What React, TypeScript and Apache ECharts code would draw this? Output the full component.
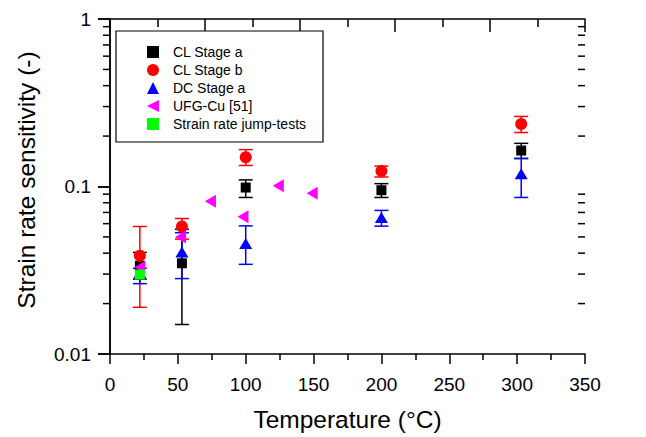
import React, { useEffect, useRef } from "react";
import * as echarts from "echarts";

// ---- data ----
const temps = [22, 53, 100, 200, 303];

const clStageA = [0.0336, 0.0348, 0.0986, 0.095, 0.164];
const clStageALow = [0.028, 0.015, 0.086, 0.086, 0.147];
const clStageAHigh = [0.0404, 0.0556, 0.1095, 0.104, 0.181];

const clStageB = [0.0386, 0.0577, 0.1496, 0.1237, 0.236];
const clStageBLow = [0.019, 0.0485, 0.1335, 0.114, 0.21];
const clStageBHigh = [0.0577, 0.0644, 0.166, 0.1324, 0.262];

const dcStageA = [0.0306, 0.0407, 0.0456, 0.0653, 0.119];
const dcStageALow = [0.0263, 0.0282, 0.0343, 0.058, 0.086];
const dcStageAHigh = [0.0325, 0.053, 0.0582, 0.072, 0.147];

const ufgTemps = [22, 52, 74, 98, 124, 149];
const ufgValues = [0.033, 0.05, 0.0816, 0.0659, 0.101, 0.091];

const jumpTemps = [22];
const jumpValues = [0.0298];

const yMajorTicks = [0.01, 0.1, 1];
const yMinorTicks = [
  0.02, 0.03, 0.04, 0.05, 0.06, 0.07, 0.08, 0.09,
  0.2, 0.3, 0.4, 0.5, 0.6, 0.7, 0.8, 0.9,
];

const legendNames = ["CL Stage a", "CL Stage b", "DC Stage a", "UFG-Cu [51]", "Strain rate jump-tests"];

const FONT = "'Liberation Sans', Arial, Helvetica, sans-serif";
const LEFT_TRIANGLE = "path://M10,0L10,10L0,5Z";

function errorSeries(name: string, color: string, low: number[], high: number[]) {
  return {
    type: "custom",
    name: name + " err",
    silent: true,
    data: temps.map((t, i) => [t, low[i], high[i]]),
    renderItem: (params: any, api: any) => {
      const x = api.value(0);
      const lo = api.coord([x, api.value(1)]);
      const hi = api.coord([x, api.value(2)]);
      const hw = 7;
      const style = { stroke: color, lineWidth: 1.5 };
      return {
        type: "group",
        children: [
          { type: "line", shape: { x1: lo[0], y1: lo[1], x2: hi[0], y2: hi[1] }, style },
          { type: "line", shape: { x1: lo[0] - hw, y1: lo[1], x2: lo[0] + hw, y2: lo[1] }, style },
          { type: "line", shape: { x1: hi[0] - hw, y1: hi[1], x2: hi[0] + hw, y2: hi[1] }, style },
        ],
      };
    },
    z: 2,
  };
}

export default function App() {
  const ref = useRef<HTMLDivElement>(null);
  useEffect(() => {
    document.body.style.margin = "0";
    if (!ref.current) return;
    const chart = echarts.init(ref.current, undefined, { renderer: "svg" });
    const axisColor = "#000";
    const option: any = {
      animation: false,
      backgroundColor: "#fff",
      textStyle: { fontFamily: FONT },
      grid: { left: 110, right: 61, top: 19, bottom: 81, containLabel: false },
      graphic: [
        {
          type: "rect",
          shape: { x: 116, y: 31, width: 207, height: 111 },
          style: { fill: "#fff", stroke: "#000", lineWidth: 1.2 },
          z: 50,
        },
        {
          type: "text",
          x: 26,
          y: 180,
          rotation: Math.PI / 2,
          style: {
            text: "Strain rate sensitivity (-)",
            font: "24.5px " + FONT,
            fill: "#000",
            textAlign: "center",
            textVerticalAlign: "middle",
          },
        },
      ],
      legend: {
        orient: "vertical",
        left: 147,
        top: 45,
        padding: 0,
        itemWidth: 12,
        itemHeight: 12,
        itemGap: 4,
        z: 60,
        textStyle: { fontSize: 14, color: "#000", fontFamily: FONT, padding: [0, 0, 0, 9] },
        data: legendNames,
      },
      xAxis: [
        {
          type: "value",
          position: "bottom",
          min: 0,
          max: 350,
          interval: 50,
          name: "Temperature (°C)",
          nameLocation: "middle",
          nameGap: 53,
          nameTextStyle: { fontSize: 24.5, color: "#000", fontFamily: FONT },
          axisLine: { show: true, lineStyle: { color: axisColor, width: 1.5 } },
          axisTick: { show: true, inside: false, length: 10, lineStyle: { color: axisColor, width: 1.5 } },
          minorTick: { show: true, splitNumber: 2, length: 6, lineStyle: { color: axisColor, width: 1.5 } },
          axisLabel: { fontSize: 19, color: "#000", margin: 21, fontFamily: FONT },
          splitLine: { show: false },
        },
        {
          type: "value",
          position: "top",
          min: 0,
          max: 350,
          interval: 70,
          axisLine: { show: true, lineStyle: { color: axisColor, width: 1.5 } },
          axisTick: { show: true, inside: true, length: 13, lineStyle: { color: axisColor, width: 1.5 } },
          minorTick: { show: true, splitNumber: 2, length: 8, lineStyle: { color: axisColor, width: 1.5 } },
          axisLabel: { show: false },
          splitLine: { show: false },
        },
      ],
      yAxis: [
        {
          type: "log",
          logBase: 10,
          position: "left",
          min: 0.01,
          max: 1,
          axisLine: { show: true, lineStyle: { color: axisColor, width: 1.5 } },
          axisTick: { show: true, inside: false, length: 12, lineStyle: { color: axisColor, width: 1.5 } },
          axisLabel: {
            fontSize: 19,
            color: "#000",
            margin: 19,
            fontFamily: FONT,
            formatter: (v: number) => {
              const r = yMajorTicks.find((t) => Math.abs(t - v) / t < 1e-6);
              return r !== undefined ? String(r) : "";
            },
          },
          splitLine: { show: false },
        },
        {
          type: "log",
          logBase: 10,
          position: "right",
          min: 0.01,
          max: 1,
          axisLine: { show: true, lineStyle: { color: axisColor, width: 1.5 } },
          axisTick: { show: true, inside: true, length: 12, lineStyle: { color: axisColor, width: 1.5 } },
          axisLabel: { show: false },
          splitLine: { show: false },
        },
      ],
      series: [
        {
          type: "custom",
          name: "minor ticks",
          silent: true,
          data: yMinorTicks.map((v) => [0, v]),
          renderItem: (params: any, api: any) => {
            const v = api.value(1);
            const l = api.coord([0, v]);
            const r = api.coord([350, v]);
            const style = { stroke: axisColor, lineWidth: 1.5 };
            return {
              type: "group",
              children: [
                { type: "line", shape: { x1: l[0] - 7, y1: l[1], x2: l[0], y2: l[1] }, style },
                { type: "line", shape: { x1: r[0] - 7, y1: r[1], x2: r[0], y2: r[1] }, style },
              ],
            };
          },
          z: 1,
        },
        errorSeries("CL Stage a", "#000000", clStageALow, clStageAHigh),
        errorSeries("CL Stage b", "#ff0000", clStageBLow, clStageBHigh),
        errorSeries("DC Stage a", "#0000ff", dcStageALow, dcStageAHigh),
        {
          type: "scatter",
          name: legendNames[0],
          symbol: "rect",
          symbolSize: 10,
          itemStyle: { color: "#000000", opacity: 1 },
          data: temps.map((t, i) => [t, clStageA[i]]),
          z: 3,
        },
        {
          type: "scatter",
          name: legendNames[1],
          symbol: "circle",
          symbolSize: 12,
          itemStyle: { color: "#ff0000", opacity: 1 },
          data: temps.map((t, i) => [t, clStageB[i]]),
          z: 3,
        },
        {
          type: "scatter",
          name: legendNames[2],
          symbol: "triangle",
          symbolSize: [13, 11],
          itemStyle: { color: "#0000ff", opacity: 1 },
          data: temps.map((t, i) => [t, dcStageA[i]]),
          z: 3,
        },
        {
          type: "scatter",
          name: legendNames[3],
          symbol: LEFT_TRIANGLE,
          symbolSize: [11, 13],
          itemStyle: { color: "#ff00ff", opacity: 1 },
          data: ufgTemps.map((t, i) => [t, ufgValues[i]]),
          z: 3,
        },
        {
          type: "scatter",
          name: legendNames[4],
          symbol: "rect",
          symbolSize: 10,
          itemStyle: { color: "#00ff00", opacity: 1 },
          data: jumpTemps.map((t, i) => [t, jumpValues[i]]),
          z: 3,
        },
      ],
    };
    chart.setOption(option);
    return () => chart.dispose();
  }, []);
  return <div ref={ref} style={{ width: 646, height: 437 }} />;
}
